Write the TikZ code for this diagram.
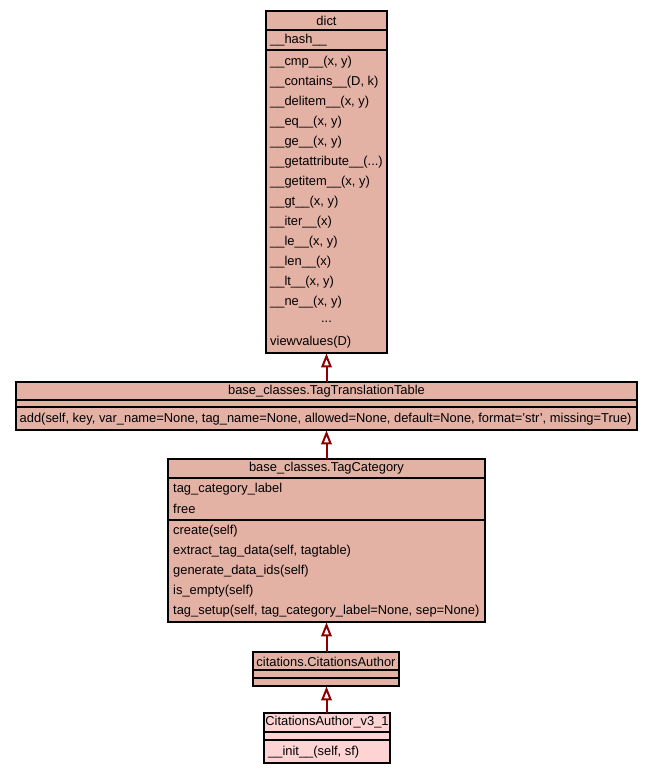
\documentclass[tikz,border=0pt]{standalone}
\usepackage{fontspec}
\setmainfont{Liberation Sans}
\usetikzlibrary{arrows.meta}
\definecolor{clsfill}{HTML}{E4B1A5}
\definecolor{leaffill}{HTML}{FED3D3}
\definecolor{arrowred}{HTML}{8B0000}
\tikzset{
  box/.style={draw=black, line width=1.1pt, inner sep=0pt},
  row/.style={anchor=west, inner sep=0pt, font=\fontsize{12.9}{14}\selectfont},
  ttl/.style={anchor=center, inner sep=0pt, font=\fontsize{12.9}{14}\selectfont},
  sep/.style={draw=black, line width=1.1pt},
  inherit/.style={draw=arrowred, line width=2pt, -{Triangle[open, length=14pt, width=10.5pt, line width=2pt]}}
}
\begin{document}
\begin{tikzpicture}[x=1pt,y=-1pt]
\useasboundingbox (0,0) rectangle (652,773);
% dict
\path[box, fill=clsfill] (266,11) rectangle (387,353);
\node[minimum width=121pt, minimum height=342pt, anchor=north west, inner sep=0pt] (dict) at (266,11) {};
\draw[sep] (266,30) -- (387,30);
\draw[sep] (266,50) -- (387,50);
\node[ttl] (dictt) at (326.5,20.5) {dict};
\node[row] (d0) at (270,40) {\_\_hash\_\_};
\node[row] (d1) at (270,62) {\_\_cmp\_\_(x, y)};
\node[row] (d2) at (270,82) {\_\_contains\_\_(D, k)};
\node[row] (d3) at (270,102) {\_\_delitem\_\_(x, y)};
\node[row] (d4) at (270,122) {\_\_eq\_\_(x, y)};
\node[row] (d5) at (270,142) {\_\_ge\_\_(x, y)};
\node[row] (d6) at (270,162) {\_\_getattribute\_\_(...)};
\node[row] (d7) at (270,182) {\_\_getitem\_\_(x, y)};
\node[row] (d8) at (270,202) {\_\_gt\_\_(x, y)};
\node[row] (d9) at (270,222) {\_\_iter\_\_(x)};
\node[row] (d10) at (270,242) {\_\_le\_\_(x, y)};
\node[row] (d11) at (270,262) {\_\_len\_\_(x)};
\node[row] (d12) at (270,282) {\_\_lt\_\_(x, y)};
\node[row] (d13) at (270,302) {\_\_ne\_\_(x, y)};
\node[ttl] (d14) at (326.5,322) {...};
\node[row] (d15) at (270,342) {viewvalues(D)};
% TagTranslationTable
\path[box, fill=clsfill] (16,382) rectangle (637,430);
\node[minimum width=621pt, minimum height=48pt, anchor=north west, inner sep=0pt] (ttt) at (16,382) {};
\draw[sep] (16,400) -- (637,400);
\draw[sep] (16,407) -- (637,407);
\node[ttl] (tttt) at (326.5,391.5) {base\_classes.TagTranslationTable};
\node[row] (t1) at (19.5,419) {add(self, key, var\_name=None, tag\_name=None, allowed=None, default=None, format='str', missing=True)};
% TagCategory
\path[box, fill=clsfill] (168,459) rectangle (485,622);
\node[minimum width=317pt, minimum height=163pt, anchor=north west, inner sep=0pt] (tc) at (168,459) {};
\draw[sep] (168,478) -- (485,478);
\draw[sep] (168,520) -- (485,520);
\node[ttl] (tct) at (326.5,468.5) {base\_classes.TagCategory};
\node[row] (c1) at (173,489) {tag\_category\_label};
\node[row] (c2) at (173,509) {free};
\node[row] (c3) at (173,531) {create(self)};
\node[row] (c4) at (173,551) {extract\_tag\_data(self, tagtable)};
\node[row] (c5) at (173,571) {generate\_data\_ids(self)};
\node[row] (c6) at (173,591) {is\_empty(self)};
\node[row] (c7) at (173,611) {tag\_setup(self, tag\_category\_label=None, sep=None)};
% CitationsAuthor
\path[box, fill=clsfill] (253,652) rectangle (399,686);
\node[minimum width=146pt, minimum height=34pt, anchor=north west, inner sep=0pt] (ca) at (253,652) {};
\draw[sep] (253,670) -- (399,670);
\draw[sep] (253,678) -- (399,678);
\node[ttl] (cat) at (326,661.5) {citations.CitationsAuthor};
% CitationsAuthor_v3_1
\path[box, fill=leaffill] (264,713) rectangle (390,763);
\node[minimum width=126pt, minimum height=50pt, anchor=north west, inner sep=0pt] (cv) at (264,713) {};
\draw[sep] (264,732) -- (390,732);
\draw[sep] (264,740) -- (390,740);
\node[ttl] (cvt) at (327,722.5) {CitationsAuthor\_v3\_1};
\node[row] (v1) at (268,752) {\_\_init\_\_(self, sf)};
% inheritance arrows
\draw[inherit] (ttt.north -| 326.5,0) -- (dict.south -| 326.5,0);
\draw[inherit] (tc.north -| 326.5,0) -- (ttt.south -| 326.5,0);
\draw[inherit] (ca.north -| 326.5,0) -- (tc.south -| 326.5,0);
\draw[inherit] (cv.north -| 326.5,0) -- (ca.south -| 326.5,0);
\end{tikzpicture}
\end{document}
